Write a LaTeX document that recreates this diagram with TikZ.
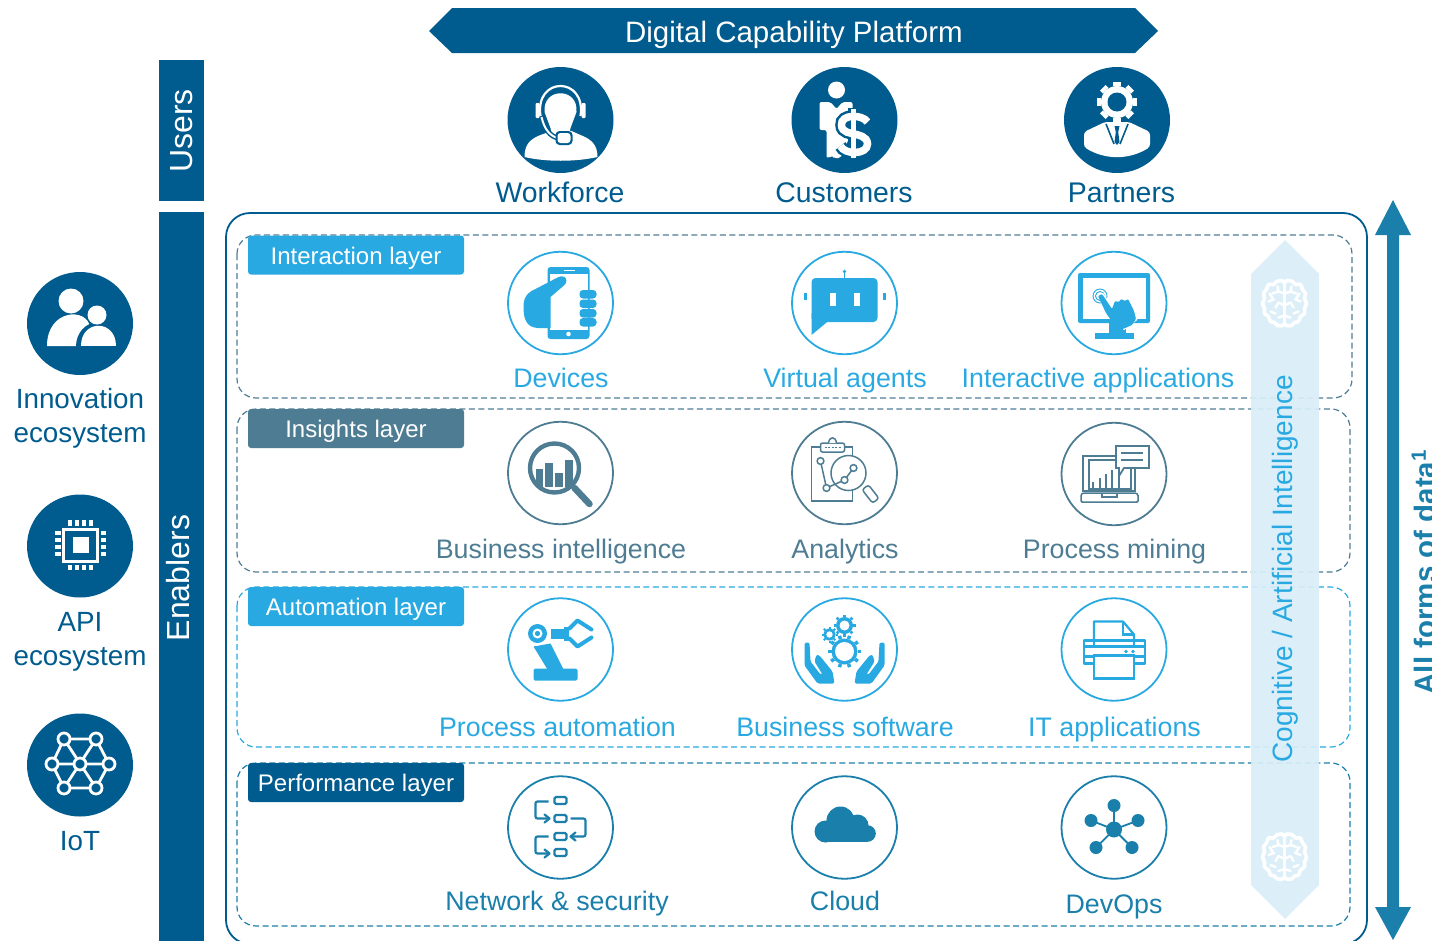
\documentclass[tikz,border=0pt]{standalone}
\usepackage{fontspec}
\usetikzlibrary{shapes.geometric}
\setmainfont{Liberation Sans}
\definecolor{navy}{HTML}{005B8E}
\definecolor{sky}{HTML}{29A9E1}
\definecolor{slate}{HTML}{4E7D93}
\definecolor{teal2}{HTML}{1A7FAB}
\definecolor{pale}{HTML}{D9EEF9}
\newcommand\cogwheel[8]{% x y rtooth rbody rhole teeth toothwidth colour
  \foreach \a in {1,...,#6}{\draw[#8,line width=#7pt] ({#1+#4*cos(\a*360/#6)},{#2+#4*sin(\a*360/#6)}) -- ({#1+#3*cos(\a*360/#6)},{#2+#3*sin(\a*360/#6)});}
  \fill[#8] (#1,#2) circle (#4);
}
\newcommand\brainicon{%
  \foreach \s in {1,-1}{
  \begin{scope}[xscale=\s]
   \draw[white,line width=3.6pt,line cap=round,line join=round] plot[smooth] coordinates {(1,-21) (-3,-23) (-8,-22) (-11,-19) (-16,-19) (-18,-14) (-21,-10) (-20,-5) (-22,0) (-20,5) (-20,10) (-16,13) (-14,18) (-10,19) (-7,22) (-2,22) (0,20)};
   \draw[white,line width=2.4pt,line cap=round] (0,-21) -- (0,20) (0,-10) -- (-6,-12) -- (-7,-17) (-6,-12) -- (-12,-10) (-15,-10) -- (-11,-4) -- (-16,-2) (0,2) -- (-6,-1) (-6,-1) -- (-9,4) (0,12) -- (-6,14) (-9,10) -- (-14,8);
  \end{scope}}
}
\tikzset{
 lbl/.style={anchor=base,inner sep=0pt,font=\fontsize{#1}{#1}\selectfont},
 lbl/.default=26.8,
 ringn/.style={ellipse,draw=#1,fill=white,line width=1.8pt,minimum width=105pt,minimum height=102.5pt,inner sep=0pt},
 disc/.style={ellipse,fill=navy,minimum width=106pt,minimum height=#1,inner sep=0pt},
 disc/.default=106pt,
 tabn/.style={fill=#1,text=white,rounded corners=3pt,minimum width=216pt,minimum height=39pt,text height=20pt,text depth=2pt,inner sep=0pt,font=\fontsize{24}{24}\selectfont},
 layer/.style={draw=#1,line width=1.2pt,dash pattern=on 6pt off 3.5pt,rounded corners=19pt},
}
\begin{document}
\begin{tikzpicture}[x=1pt,y=-1pt]
\useasboundingbox (0,0) rectangle (1432,940);
\clip (0,0) rectangle (1432,940);
% banner
\fill[navy] (429,31) -- (452,8) -- (1135,8) -- (1158,31) -- (1135,53) -- (452,53) -- cycle;
\node[lbl=29.5,text=white] (title) at (794,42) {Digital Capability Platform};
% side bars
\fill[navy] (159,60) rectangle (204,201);
\fill[navy] (159,212) rectangle (204,945);
\node[lbl=32,text=white,rotate=90] (users) at (192,131) {Users};
\node[lbl=32,text=white,rotate=90] (enablers) at (189,578) {Enablers};
% frame
\draw[navy,line width=1.8pt,rounded corners=24pt] (226,213) rectangle (1367,944);
% layers
\draw[layer=slate] (237,235) rectangle (1352,398);
\draw[layer=slate] (237,409) rectangle (1350,572);
\draw[layer=sky] (237,587) rectangle (1350,747);
\draw[layer=teal2] (237,763) rectangle (1350,926);
\node[tabn=sky] (t1) at (356,255) {Interaction layer};
\node[tabn=slate] (t2) at (356,428.5) {Insights layer};
\node[tabn=sky] (t3) at (356,606.5) {Automation layer};
\node[tabn=navy] (t4) at (356,782.5) {Performance layer};
% cognitive band
\fill[pale,opacity=.92] (1285,240) -- (1319,274) -- (1319,885) -- (1285,919) -- (1251,885) -- (1251,274) -- cycle;
\node[lbl=28,text=sky,rotate=90] (cog) at (1292,569) {Cognitive / Artificial Intelligence};
\begin{scope}[shift={(1284.5,303.5)}]\brainicon\end{scope}
\begin{scope}[shift={(1284.5,857)}]\brainicon\end{scope}
% double arrow
\fill[teal2] (1393,200) -- (1411,235) -- (1399,235) -- (1399,907) -- (1411,907) -- (1393,940) -- (1375,907) -- (1387,907) -- (1387,235) -- (1375,235) -- cycle;
\node[lbl=29.5,text=teal2,rotate=90] (data) at (1435,572) {\bfseries All forms of data\textsuperscript{1}};
% user circles
\node[disc] (wf) at (560.5,120) {};
\node[disc] (cu) at (844.5,120) {};
\node[disc] (pa) at (1117,120) {};
\node[lbl=28.4,text=navy] (wfl) at (560,202) {Workforce};
\node[lbl=28.4,text=navy] (cul) at (844,202) {Customers};
\node[lbl=28.4,text=navy] (pal) at (1121.5,202) {Partners};
% workforce icon
\begin{scope}[shift={(560.5,120)}]
 \fill[white] (-36,37) .. controls (-36,24) and (-30,19) .. (-20,15) -- (-9,11) -- (11,11) -- (20,15) .. controls (30,19) and (37,24) .. (37,37) .. controls (15,42) and (-15,42) .. (-36,37) -- cycle;
 \draw[white,line width=2.2pt] (-20,-4) .. controls (-26,-44) and (26,-44) .. (20,-4);
 \fill[white] (-16,-8) .. controls (-18,-33) and (18,-33) .. (16,-8) -- (10,8) -- (8,18) -- (-8,18) -- (-10,8) -- cycle;
 \fill[white,rounded corners=1pt] (-25,-17) rectangle (-21,-2);
 \fill[white,rounded corners=1pt] (21,-17) rectangle (25,-2);
 \draw[navy,line width=5pt] (-19,-3) .. controls (-16,10) and (-10,16) .. (-3,18);
 \draw[white,line width=2pt] (-19,-3) .. controls (-16,10) and (-10,16) .. (-3,18);
 \fill[navy,rounded corners=4pt] (-5,11) rectangle (12,25);
 \fill[white,rounded corners=3pt] (-3,13) rectangle (10,23);
\end{scope}
% customers icon
\begin{scope}[shift={(844.5,120)}]
 \fill[white] (-8,-30) circle (8.5);
 \fill[white,rounded corners=2pt] (-25,-18) -- (-14,-18) -- (-8,-11) -- (-2,-18) -- (8,-18) -- (8,10) -- (-4,38) -- (-11,38) -- (-11,36) -- (-18,38) -- (-18,10) -- (-25,10) -- cycle;
 \draw[navy,line width=12.5pt] (23,2) .. controls (18,-6) and (-4,-6) .. (-3,5) .. controls (-3,13) and (7,13) .. (10,14) .. controls (13,15) and (23,16) .. (23,24) .. controls (23,35) and (0,35) .. (-4,26);
 \draw[navy,line width=11pt] (9,-12) -- (9,40);
 \draw[white,line width=7.5pt] (23,2) .. controls (18,-6) and (-4,-6) .. (-3,5) .. controls (-3,13) and (7,13) .. (10,14) .. controls (13,15) and (23,16) .. (23,24) .. controls (23,35) and (0,35) .. (-4,26);
 \draw[white,line width=5.5pt] (9,-11) -- (9,38);
\end{scope}
% partners icon
\begin{scope}[shift={(1117,120)}]
 \fill[white,rounded corners=3pt] (-33,27) -- (-33,12) -- (-12,2) -- (12,2) -- (33,12) -- (33,27) .. controls (12,40) and (-12,40) .. (-33,27) -- cycle;
 \draw[navy,line width=1.6pt] (-11,4) -- (-3,24) (11,4) -- (3,24);
 \fill[navy] (-2.5,6) -- (2.5,6) -- (1.2,12) -- (2.5,22) -- (0,25) -- (-2.5,22) -- (-1.2,12) -- cycle;
 \cogwheel{0}{-18}{20}{16}{9.5}{8}{8}{white}
 \fill[navy] (0,-18) circle (9.5);
\end{scope}
% left circles
\node[disc=103pt] (in) at (80,323.5) {};
\node[disc=103pt] (ap) at (80,546) {};
\node[disc=103pt] (io) at (80,765) {};
\node[lbl=27.8,text=navy] (inl) at (80,408) {Innovation};
\node[lbl=27.8,text=navy] (inl2) at (80,442) {ecosystem};
\node[lbl=27.8,text=navy] (apl) at (80,631) {API};
\node[lbl=27.8,text=navy] (apl2) at (80,665) {ecosystem};
\node[lbl=27.8,text=navy] (iol) at (80,850) {IoT};
\begin{scope}[shift={(80,323)}]
 \fill[white] (-9,-22) circle (12.5);
 \fill[white] (-33,23) .. controls (-33,-14) and (7,-16) .. (10,4) -- (0,23) -- cycle;
 \fill[navy] (17,23.5) ellipse (21 and 24);
 \fill[white] (17,-8) circle (9.5);
 \fill[white] (1,23) .. controls (1,-4) and (36,-4) .. (36,23) -- cycle;
 \fill[navy] (-3,24) rectangle (40,30);
\end{scope}
\begin{scope}[shift={(80,546)}]
 \fill[white] (-18,-18) rectangle (19,17);
 \fill[navy] (-15,-15) rectangle (16,14);
 \fill[white] (-7,-9) rectangle (9,7);
 \foreach \p in {-12,-5,2,9}{
  \fill[white] (\p,-26) rectangle (\p+4,-20);
  \fill[white] (\p,19) rectangle (\p+4,24);
 }
 \foreach \p in {-15,-8,-1,6}{
  \fill[white] (-25,\p) rectangle (-19,\p+4);
  \fill[white] (21,\p) rectangle (26,\p+4);
 }
\end{scope}
\begin{scope}[shift={(80,765)},line width=2.8pt]
 \draw[white] (-16,-26) -- (16,-26) -- (29,-1) -- (16,23) -- (-16,23) -- (-28,-1) -- cycle;
 \draw[white] (-28,-1) -- (29,-1) (-16,-26) -- (16,23) (16,-26) -- (-16,23);
 \foreach \q in {(-16,-26),(16,-26),(-28,-1),(0,-1),(29,-1),(-16,23),(16,23)}{
  \draw[white,fill=navy,line width=2.8pt] \q circle (6);
 }
\end{scope}
% ring nodes
\node[ringn=sky] (d1) at (560.5,303) {};
\node[ringn=sky] (d2) at (844.5,303) {};
\node[ringn=sky] (d3) at (1114,303) {};
\node[ringn=slate] (i1) at (560.5,473) {};
\node[ringn=slate] (i2) at (844.5,473) {};
\node[ringn=slate] (i3) at (1114,474) {};
\node[ringn=sky] (a1) at (560.5,649.5) {};
\node[ringn=sky] (a2) at (844.5,649.5) {};
\node[ringn=sky] (a3) at (1114,649.5) {};
\node[ringn=teal2] (p1) at (560.5,827.5) {};
\node[ringn=teal2] (p2) at (844.5,827.5) {};
\node[ringn=teal2] (p3) at (1114,827.5) {};
% labels
\node[lbl,text=sky] (d1l) at (561,387) {Devices};
\node[lbl,text=sky] (d2l) at (845,387) {Virtual agents};
\node[lbl,text=sky] (d3l) at (1098,387) {Interactive applications};
\node[lbl,text=slate] (i1l) at (561,558) {Business intelligence};
\node[lbl,text=slate] (i2l) at (845,558) {Analytics};
\node[lbl,text=slate] (i3l) at (1114.5,558) {Process mining};
\node[lbl,text=sky] (a1l) at (557.5,736) {Process automation};
\node[lbl,text=sky] (a2l) at (845,736) {Business software};
\node[lbl,text=sky] (a3l) at (1114.5,736) {IT applications};
\node[lbl,text=teal2] (p1l) at (557,910) {Network \& security};
\node[lbl,text=teal2] (p2l) at (845,910) {Cloud};
\node[lbl,text=teal2] (p3l) at (1114,913) {DevOps};
% devices icon
\begin{scope}[shift={(560.5,303)}]
 \fill[sky,rounded corners=3pt] (-13,-36) rectangle (29,36);
 \fill[white] (-11,-29) rectangle (27,27);
 \fill[white] (3,-33) rectangle (14,-32);
 \fill[white] (8,31) circle (2.3);
 \fill[sky] (4,-26) .. controls (7,-24) and (6,-20) .. (4,-18) -- (-10,-6) -- (-10,25) -- (-23,25) .. controls (-35,24) and (-37,15) .. (-37,3) .. controls (-37,-8) and (-30,-12) .. (-25,-14) -- (-2,-26) .. controls (0,-27) and (2,-27) .. (4,-26) -- cycle;
 \foreach \p in {-13,-3.5,6,15}{\fill[sky,rounded corners=3.5pt] (19,\p) rectangle (36,\p+8.5);}
\end{scope}
% virtual agent icon
\begin{scope}[shift={(844.5,303)}]
 \fill[sky,rounded corners=4pt] (-33,-25) rectangle (33,19);
 \fill[sky] (-33,10) -- (-33,32) -- (-15,17) -- cycle;
 \fill[white] (-15,-10) rectangle (-9,3);
 \fill[white] (9,-10) rectangle (15,3);
 \draw[sky,line width=.9pt] (0,-31) -- (0,-25);
 \fill[sky] (0,-31.5) circle (1.8);
 \fill[sky] (-41,-10) rectangle (-38,-3);
 \fill[sky] (38,-10) rectangle (41,-3);
\end{scope}
% interactive applications icon
\begin{scope}[shift={(1114,303)}]
 \fill[sky,rounded corners=2pt] (-36,-30) rectangle (36,20);
 \fill[white] (-31,-25) rectangle (32,16);
 \fill[sky] (-19,30) rectangle (20,36);
 \fill[sky] (-5,20) rectangle (12,31);
 \draw[sky,line width=.9pt] (-14,-7) circle (4.5) (-14,-7) circle (7);
 \draw[white,line width=3pt,line join=round] (-16,-7) -- (-12,-9) -- (-2,6) -- (1,-2) -- (14,-4) -- (22,16) -- (9,26);
 \fill[sky,rounded corners=1pt] (-16,-7) -- (-12,-9) -- (-6,0) -- (-2,6) -- (1,-2) -- (5,-1) -- (7,-4) -- (11,-2) -- (14,-4) -- (20,8) -- (22,16) -- (18,22) -- (9,26) -- (-2,26) -- (-1,20) -- (-8,10) -- cycle;
\end{scope}
% BI icon
\begin{scope}[shift={(560.5,473)}]
 \draw[slate,line width=6.5pt,line cap=round] (14,15) -- (29,31);
 \draw[slate,line width=4.4pt] (-6,-5) circle (24.5);
 \foreach \xa/\xb/\ya in {-25/-18/-4,-16/-8/-10,-6/2/0,4/12/-13}{\fill[slate] (\xa,\ya) rectangle (\xb,14);}
\end{scope}
% analytics icon
\begin{scope}[shift={(844.5,473)},line width=1.5pt]
 \draw[slate,fill=white] (-33,-26) rectangle (8,28);
 \draw[slate,fill=white,rounded corners=2pt] (-24,-30) rectangle (0,-21);
 \draw[slate,fill=white] (-16,-30) .. controls (-15,-37) and (-9,-37) .. (-8,-30);
 \draw[slate,line width=1.2pt,dash pattern=on 2pt off 1.5pt] (-20,-25.5) -- (-4,-25.5);
 \draw[slate,fill=white] (4,0) circle (17.5);
 \draw[slate] (-24,-12) -- (-18,15) -- (0,7) -- (9,-5);
 \foreach \q in {(-24,-12),(-18,15),(0,7),(9,-5)}{\draw[slate,fill=white] \q circle (3.4);}
 \draw[slate,fill=white,rotate around={38:(26,21)},rounded corners=2.5pt] (22,12.5) rectangle (30,29.5);
\end{scope}
% process mining icon
\begin{scope}[shift={(1114,474)},line width=1.5pt]
 \draw[slate] (-31,-18) rectangle (21,17);
 \draw[slate] (-25,-14) rectangle (17,15);
 \draw[slate,rounded corners=3pt] (-33,19) -- (24,19) -- (24,24) .. controls (24,27) and (22,28) .. (20,28) -- (-29,28) .. controls (-31,28) and (-33,27) .. (-33,24) -- cycle;
 \draw[slate] (-12,19) -- (-12,23) -- (3,23) -- (3,19);
 \foreach \xx/\yy in {-21/8,-14/4,-8/0,-2/-4,5/-8}{\draw[slate] (\xx,14) -- (\xx,\yy);}
 \draw[slate,fill=white,line width=1.8pt] (2,-28) -- (35,-28) -- (35,-6) -- (10,-6) -- (5,2) -- (5,-6) -- (2,-6) -- cycle;
 \draw[slate,line width=1.6pt] (7,-21) -- (29,-21) (7,-14) -- (29,-14);
\end{scope}
% robot icon
\begin{scope}[shift={(560.5,649.5)}]
 \fill[sky,rounded corners=1.5pt] (-27,19) rectangle (17,31);
 \fill[sky] (-27,-3) -- (-10,-6) -- (3,20) -- (-13,20) -- cycle;
 \draw[white,line width=2pt] (-23,-16) circle (11);
 \fill[sky] (-23,-16) circle (9.5);
 \fill[white] (-23,-16) circle (5);
 \fill[sky] (-23,-16) circle (2.6);
 \fill[sky] (-10,-21) rectangle (3,-11);
 \fill[sky] (3,-23) rectangle (8,-9);
 \draw[sky,line width=4pt,line cap=round,line join=round] (9,-21) -- (17,-29) -- (31,-20);
 \draw[sky,line width=4pt,line cap=round,line join=round] (9,-11) -- (17,-3) -- (31,-12);
\end{scope}
% business software icon
\begin{scope}[shift={(844.5,649.5)}]
 \cogwheel{0}{2}{16.5}{13}{0}{10}{3.5}{sky}
 \fill[white] (0,2) circle (9.5);
 \cogwheel{0}{-24}{11}{8.5}{0}{8}{2.8}{sky}
 \fill[white] (0,-24) circle (5);
 \cogwheel{-15}{-15}{8}{6}{0}{8}{2}{sky}
 \fill[white] (-15,-15) circle (3.2);
 \foreach \s in {1,-1}{
 \begin{scope}[xscale=\s]
  \fill[sky,rounded corners=1.5pt] (-40,-7) -- (-35,-7) -- (-34,12) -- (-24,25) -- (-22,25) -- (-30,12) -- (-28,5) -- (-25,6) -- (-12,22) -- (-10,34) -- (-27,34) -- (-40,16) -- cycle;
 \end{scope}}
\end{scope}
% printer icon
\begin{scope}[shift={(1114,649.5)},line width=2.2pt]
 \draw[sky,fill=white,line join=round] (-20,-28) -- (9,-28) -- (20,-15) -- (20,-6) -- (-20,-6) -- cycle;
 \draw[sky] (9,-28) -- (9,-15) -- (20,-15);
 \draw[sky,fill=white,line join=round] (-30,-9) rectangle (31,14);
 \draw[sky] (-30,-3) -- (31,-3);
 \draw[sky,fill=white] (-20,-9) rectangle (20,-3);
 \draw[sky,fill=white] (-20,6) rectangle (20,29);
 \draw[sky] (-30,7) -- (-20,7) (20,7) -- (31,7);
 \fill[sky] (12,2) circle (1.9) (19,2) circle (1.9);
\end{scope}
% network icon
\begin{scope}[shift={(560.5,827.5)},line width=2.2pt]
 \foreach \q in {-27,-9,9,25}{\draw[teal2,rounded corners=1.5pt] (-6,\q-3.5) rectangle (6,\q+3.5);}
 \draw[teal2,rounded corners=2pt] (-12,-26) -- (-25,-26) -- (-25,-9) -- (-11,-9);
 \draw[teal2,rounded corners=2pt] (10,-9) -- (25,-9) -- (25,9) -- (10,9);
 \draw[teal2,rounded corners=2pt] (-12,9) -- (-25,9) -- (-25,26) -- (-11,26);
 \draw[teal2,line cap=round,line join=round] (-16,-13) -- (-11,-9) -- (-16,-5) (-16,22) -- (-11,26) -- (-16,30) (15,5) -- (10,9) -- (15,13);
\end{scope}
% cloud icon
\begin{scope}[shift={(844.5,827.5)}]
 \fill[teal2] (-19,4) circle (11) (-4,-7) circle (14) (13,-2) circle (11) (23,6) circle (8.3);
 \fill[teal2] (-19,2) rectangle (23,14.5);
\end{scope}
% devops icon
\begin{scope}[shift={(1114,827.5)}]
 \foreach \q in {(0,-22),(-23,-7),(24,-7),(-18,20),(18,20)}{
  \draw[teal2,line width=1.8pt] (0,2) -- \q;
  \fill[teal2] \q ellipse (6.5 and 6.5);
 }
 \fill[teal2] (0,2) circle (8);
\end{scope}
\end{tikzpicture}
\end{document}
